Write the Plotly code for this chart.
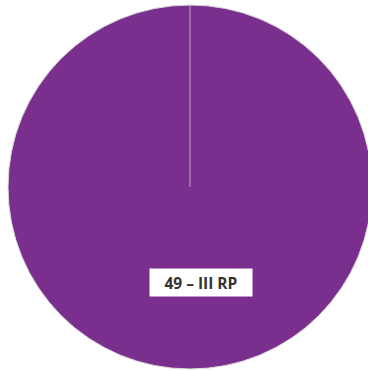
import plotly.graph_objects as go

labels = ["III RP"]
values = [49]

W, H = 380, 371
ml, mr, mt, mb = 8, 8, 5, 2

fig = go.Figure(go.Pie(
    labels=labels,
    values=values,
    marker=dict(colors=["#7a2f8f"], line=dict(color="#d8d8d8", width=1)),
    textinfo="none",
    hoverinfo="label+value",
    sort=False,
    direction="clockwise",
    rotation=0,
    showlegend=False,
))

fig.add_shape(type="line", xref="paper", yref="paper",
              x0=0.5, x1=0.5, y0=0.5, y1=1.0,
              line=dict(color="rgba(255,255,255,0.55)", width=1))

fig.add_annotation(
    xref="paper", yref="paper",
    x=(201 - ml) / (W - ml - mr), y=1 - (282 - mt) / (H - mt - mb),
    text=f"<b>{values[0]} – {labels[0]}</b>",
    showarrow=False,
    font=dict(family="Open Sans", size=15.5, color="#333333"),
    bgcolor="white",
    width=92, height=17,
    borderpad=5,
    xanchor="center", yanchor="middle",
)

fig.update_layout(
    width=W, height=H,
    margin=dict(l=ml, r=mr, t=mt, b=mb),
    paper_bgcolor="white",
    plot_bgcolor="white",
)

fig.write_html("out.html", config={"displayModeBar": False},
               post_script="document.body.style.margin='0';document.body.style.overflow='hidden';document.documentElement.style.overflow='hidden';")
